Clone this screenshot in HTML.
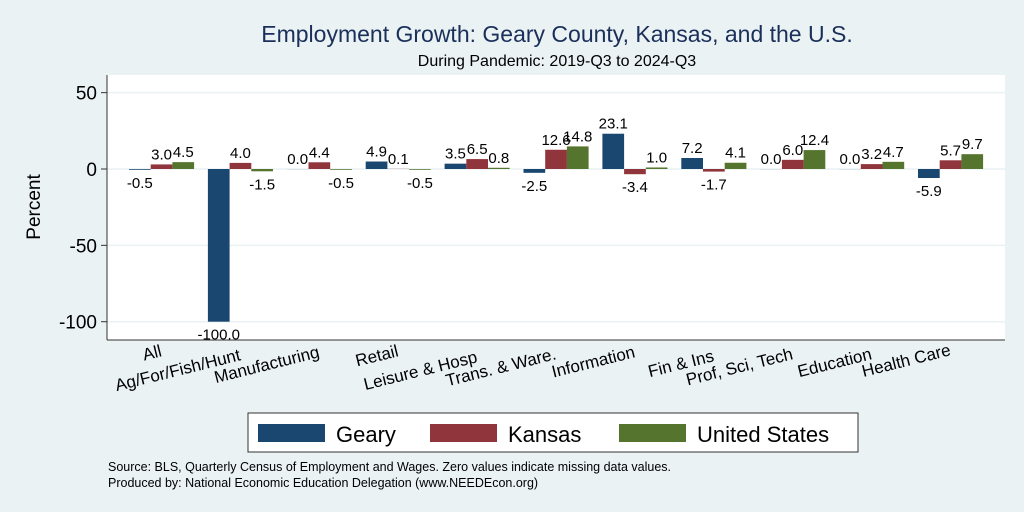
<!DOCTYPE html>
<html><head><meta charset="utf-8"><style>
body{margin:0;background:#eaf2f3;}
svg{display:block;font-family:"Liberation Sans",sans-serif;}
</style></head><body>
<svg id="chart" width="1024" height="512">
<rect x="0" y="0" width="1024" height="512" fill="#eaf2f3"/>
<text x="557" y="42" font-size="23" fill="#1a2f5a" text-anchor="middle">Employment Growth: Geary County, Kansas, and the U.S.</text>
<text x="557" y="66" font-size="16" fill="#000" text-anchor="middle">During Pandemic: 2019-Q3 to 2024-Q3</text>
<rect x="107" y="75" width="898" height="265" fill="#fff"/>
<g id="grid"></g><g id="bars"></g><g id="labels"></g><g id="xlabels"></g>
<line x1="107" y1="75" x2="107" y2="340" stroke="#333" stroke-width="1"/>
<line x1="107" y1="340" x2="1005" y2="340" stroke="#333" stroke-width="1"/>
<text transform="translate(40,207) rotate(-90)" font-size="19" text-anchor="middle">Percent</text>
<g>
<rect x="248" y="413" width="610" height="39" fill="#fff" stroke="#333" stroke-width="1"/>
<rect x="258" y="424" width="67" height="18" fill="#1a476f"/>
<text x="336" y="442" font-size="22">Geary</text>
<rect x="430" y="424" width="67" height="18" fill="#90353b"/>
<text x="508" y="442" font-size="22">Kansas</text>
<rect x="619" y="424" width="67" height="18" fill="#55752f"/>
<text x="697" y="442" font-size="22">United States</text>
</g>
<text x="108" y="471" font-size="12.5">Source: BLS, Quarterly Census of Employment and Wages. Zero values indicate missing data values.</text>
<text x="108" y="487" font-size="12.5">Produced by: National Economic Education Delegation (www.NEEDEcon.org)</text>
</svg>
<script>
const categories=["All","Ag/For/Fish/Hunt","Manufacturing","Retail","Leisure & Hosp","Trans. & Ware.","Information","Fin & Ins","Prof, Sci, Tech","Education","Health Care"];
const geary=[-0.5,-100.0,0.0,4.9,3.5,-2.5,23.1,7.2,0.0,0.0,-5.9];
const kansas=[3.0,4.0,4.4,0.1,6.5,12.6,-3.4,-1.7,6.0,3.2,5.7];
const us=[4.5,-1.5,-0.5,-0.5,0.8,14.8,1.0,4.1,12.4,4.7,9.7];
const yTicks=[50,0,-50,-100];
const NS="http://www.w3.org/2000/svg";
const y=v=>169-v*1.527;
const barW=21.7;
const gx=i=>129+i*78.9;
const labelRowY=[356,360,357,356,362,359,357,361,359,359,355];
function mk(tag,attrs,parent){const e=document.createElementNS(NS,tag);for(const k in attrs)e.setAttribute(k,attrs[k]);parent.appendChild(e);return e;}
const grid=document.getElementById('grid'),bars=document.getElementById('bars'),labels=document.getElementById('labels'),xl=document.getElementById('xlabels');
yTicks.forEach(t=>{
  const l=mk('line',{x1:107,x2:1005,y1:y(t),y2:y(t),stroke:'#eaf2f3','stroke-width':1.5},grid);
  
  
  const tk=mk('line',{x1:101,x2:107,y1:y(t),y2:y(t),stroke:'#333'},grid);
  
  
  const tx=mk('text',{x:97,y:y(t)+7,'font-size':19,'text-anchor':'end'},grid);
  tx.textContent=t;
  
  
});
const series=[[geary,'#1a476f','geary'],[kansas,'#90353b','kansas'],[us,'#55752f','us']];
categories.forEach((c,i)=>{
  series.forEach(([vals,col,nm],j)=>{
    const v=vals[i];const x=gx(i)+j*barW;
    const r=mk('rect',{x:x,y:Math.min(y(v),y(0)),width:barW,height:Math.max(Math.abs(y(v)-y(0)),0.1),fill:col},bars);
    
    
    const ty=v>=0?y(v)-5:y(v)+18;
    const t=mk('text',{x:x+barW/2,y:ty,'font-size':15,'text-anchor':'middle'},labels);
    t.textContent=v.toFixed(1);
    
    
  });
  const cx=gx(i)+barW*1.5;
  const t=mk('text',{transform:`translate(${cx+1},${labelRowY[i]}) rotate(-14)`,'font-size':17,'text-anchor':'end'},xl);
  t.textContent=c;
  
  
});
</script>
</body></html>
